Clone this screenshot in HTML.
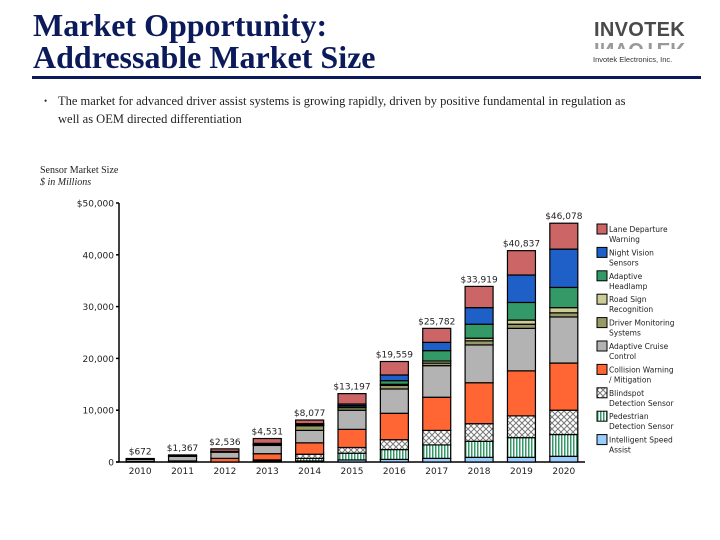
<!DOCTYPE html>
<html><head><meta charset="utf-8"><style>
body{margin:0;width:720px;height:540px;background:#fff;overflow:hidden;position:relative;font-family:"Liberation Sans",sans-serif}
.t{position:absolute;left:33px;top:9px;font-family:"Liberation Serif",serif;font-weight:bold;font-size:32px;line-height:32px;color:#0b1a5a}
.rule{position:absolute;left:32px;top:76px;width:669px;height:3px;background:#0b1a5a}
.logo{position:absolute;left:594px;top:20px;font-weight:bold;font-size:20px;line-height:20px;color:#4a4a4a;letter-spacing:0.3px}
.refl{position:absolute;left:594px;top:41px;height:8px;overflow:hidden}
.refl div{font-weight:bold;font-size:20px;line-height:16px;color:#999;transform:scaleY(-1);letter-spacing:0.3px}
.sub{position:absolute;left:593px;top:55px;font-size:7.5px;color:#333}
.bul{position:absolute;left:40px;top:92px;font-family:"Liberation Serif",serif;font-size:12.5px;line-height:18px;color:#222;width:590px}
.bul span{position:absolute;left:-12px;font-size:9px}
.st{position:absolute;left:40px;top:165px;font-family:"Liberation Serif",serif;font-size:10px;line-height:12px;color:#222}
</style></head><body>
<div class="t">Market Opportunity:<br>Addressable Market Size</div>
<div class="rule"></div>
<div class="logo">INVOTEK</div>
<div class="refl"><div>INVOTEK</div></div>
<div class="sub">Invotek Electronics, Inc.</div>
<div class="bul" style="padding-left:18px"><span style="left:4px">•</span>The market for advanced driver assist systems is growing rapidly, driven by positive fundamental in regulation as well as OEM directed differentiation</div>
<div class="st">Sensor Market Size<br><i>$ in Millions</i></div>
<svg id="chart" width="720" height="540" style="position:absolute;left:0;top:0">
<defs>
<pattern id="pBlind" width="6" height="6" patternUnits="userSpaceOnUse"><rect width="6" height="6" fill="#fff"/><path d="M0 3L3 0L6 3L3 6Z" fill="none" stroke="#777" stroke-width="1"/></pattern>
<pattern id="pPed" width="3" height="4" patternUnits="userSpaceOnUse"><rect width="3" height="4" fill="#fff"/><rect width="1.5" height="4" fill="#339966"/></pattern>
</defs>
</svg>
<script>
const years=["2010","2011","2012","2013","2014","2015","2016","2017","2018","2019","2020"];
const totalLabels=["$672","$1,367","$2,536","$4,531","$8,077","$13,197","$19,559","$25,782","$33,919","$40,837","$46,078"];
const yTicks=[0,10000,20000,30000,40000,50000];
const yTickLabels=["0","10,000","20,000","30,000","40,000","$50,000"];
const seriesNames=["Intelligent Speed Assist","Pedestrian Detection Sensor","Blindspot Detection Sensor","Collision Warning / Mitigation","Adaptive Cruise Control","Driver Monitoring Systems","Road Sign Recognition","Adaptive Headlamp","Night Vision Sensors","Lane Departure Warning"];
const isa=[0,0,0,0,200,400,500,700,900,900,1100];
const ped=[0,0,0,200,500,1300,1900,2600,3100,3800,4200];
const blind=[0,0,0,200,800,1100,1900,2800,3400,4200,4700];
const coll=[100,200,700,1200,2200,3500,5100,6400,7900,8700,9100];
const acc=[400,900,1200,1600,2400,3700,4700,6100,7300,8200,8900];
const dms=[50,50,100,150,900,500,700,500,800,800,800];
const rsr=[0,0,0,50,100,100,200,400,500,800,1000];
const ahl=[0,0,50,100,200,300,700,2000,2700,3400,3900];
const nvs=[0,0,0,100,100,300,1100,1600,3200,5300,7400];
const ldw=[122,217,486,931,700,2000,2600,2700,4100,4700,5000];
const series=[isa,ped,blind,coll,acc,dms,rsr,ahl,nvs,ldw];
const fills=["#99ccff","url(#pPed)","url(#pBlind)","#ff6633","#b3b3b3","#999966","#cccc99","#339966","#1f5fc8","#cc6666"];
const svg=document.getElementById('chart');const NS="http://www.w3.org/2000/svg";
const y0=462,yTop=203,vMax=50000;const xL=119,xR=585;
const yS=v=>y0-(v/vMax)*(y0-yTop);
const step=(xR-xL)/years.length;const xC=i=>xL+step*(i+0.5);const bw=28;
function mk(t,a){const e=document.createElementNS(NS,t);for(const k in a)e.setAttribute(k,a[k]);svg.appendChild(e);return e;}
let ax=mk('line',{x1:xL,y1:yTop,x2:xL,y2:y0,stroke:'#000','stroke-width':1.5});

let bx=mk('line',{x1:xL-3,y1:y0,x2:xR,y2:y0,stroke:'#000','stroke-width':1.5});

yTicks.forEach((v,i)=>{let t=mk('line',{x1:xL-3,y1:yS(v),x2:xL,y2:yS(v),stroke:'#000','stroke-width':1.5});

let l=mk('text',{x:xL-5,y:yS(v)+3.5,'text-anchor':'end','font-size':9,fill:'#222','font-family':'DejaVu Sans, sans-serif'});l.textContent=yTickLabels[i];
});
years.forEach((yr,i)=>{let cum=0;
series.forEach((s,k)=>{const v=s[i];if(v<=0)return;const r=mk('rect',{x:xC(i)-bw/2,y:yS(cum+v),width:bw,height:yS(cum)-yS(cum+v),fill:fills[k],stroke:'#000','stroke-width':1.2});
cum+=v;});
let tl=mk('text',{x:xC(i),y:yS(cum)-4,'text-anchor':'middle','font-size':9,fill:'#222','font-family':'DejaVu Sans, sans-serif'});tl.textContent=totalLabels[i];

let xl=mk('text',{x:xC(i),y:y0+12,'text-anchor':'middle','font-size':9,fill:'#222','font-family':'DejaVu Sans, sans-serif'});xl.textContent=yr;
});
const legNames=[["Lane Departure","Warning"],["Night Vision","Sensors"],["Adaptive","Headlamp"],["Road Sign","Recognition"],["Driver Monitoring","Systems"],["Adaptive Cruise","Control"],["Collision Warning","/ Mitigation"],["Blindspot","Detection Sensor"],["Pedestrian","Detection Sensor"],["Intelligent Speed","Assist"]];
for(let j=0;j<10;j++){const k=9-j;const yy=224+j*23.4;
let sq=mk('rect',{x:597,y:yy,width:10,height:10,fill:fills[k],stroke:'#000','stroke-width':1});

let t=mk('text',{x:609,y:yy+8,'font-size':7.5,fill:'#222','font-family':'DejaVu Sans, sans-serif'});

const a=document.createElementNS(NS,'tspan');a.setAttribute('x',609);a.textContent=legNames[j][0];t.appendChild(a);
const b=document.createElementNS(NS,'tspan');b.setAttribute('x',609);b.setAttribute('dy',10);b.textContent=legNames[j][1];t.appendChild(b);}
</script>
</body></html>
